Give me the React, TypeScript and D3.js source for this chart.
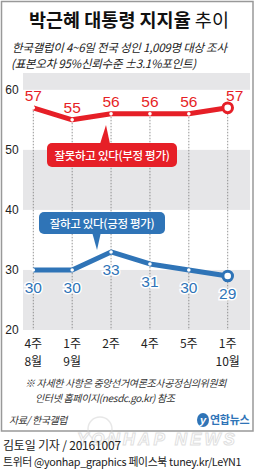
import React from "react";
import * as d3 from "d3";

// 조사 주차
const weeks = ["4주", "1주", "2주", "4주", "5주", "1주"];
const months = ["8월", "9월", "", "", "", "10월"];
// 잘못하고 있다(부정 평가)
const negative = [57, 55, 56, 56, 56, 57];
// 잘하고 있다(긍정 평가)
const positive = [30, 30, 33, 31, 30, 29];
const yTicks = [20, 30, 40, 50, 60];
// 회색 배경 구간
const bands: [number, number][] = [[20, 30], [40, 50], [60, 62.8]];

const W = 258;
const H = 470;
const RED = "#e61f27";
const BLUE = "#2f74b7";
const KR = "'Noto Sans CJK KR', 'Noto Sans', sans-serif";
const NUM = "'Liberation Sans Narrow', 'Liberation Sans', Arial, sans-serif";

export default function App() {
  const plot = { left: 23, right: 250, top: 73, bottom: 330 };

  const x = d3
    .scalePoint<number>()
    .domain(d3.range(weeks.length))
    .range([33.3, 227.7]);
  const y = d3.scaleLinear().domain([20, 62.8]).range([plot.bottom, plot.top]);

  const line = d3
    .line<number>()
    .x((_, i) => x(i)!)
    .y((d) => y(d));

  const last = weeks.length - 1;

  return (
    <svg
      width={W}
      height={H}
      viewBox={`0 0 ${W} ${H}`}
      style={{ position: "absolute", left: 0, top: 0, background: "#fff" }}
    >
      {/* 제목 */}
      <text x={129} y={27} textAnchor="middle" fontFamily={KR} fontSize={18.5} fill="#111">
        <tspan fontWeight="bold">박근혜 대통령 지지율 </tspan>
        <tspan>추이</tspan>
      </text>
      <g fontFamily={KR} fontSize={11.5} fill="#222" fontStyle="italic" letterSpacing={-0.25}>
        <text x={12} y={51.5}>한국갤럽이 4~6일 전국 성인 1,009명 대상 조사</text>
        <text x={11} y={68}>(표본오차 95%신뢰수준 ±3.1%포인트)</text>
      </g>

      {/* 배경 구간 */}
      {bands.map(([a, b]) => (
        <rect
          key={a}
          x={plot.left}
          y={y(b)}
          width={plot.right - plot.left}
          height={y(a) - y(b)}
          fill="#e6e6e8"
        />
      ))}

      {/* y축 */}
      {yTicks.map((t) => (
        <text
          key={t}
          x={12}
          y={y(t) + 4}
          textAnchor="middle"
          fontFamily={NUM}
          fontSize={12}
          fill="#222"
        >
          {t}
        </text>
      ))}

      {/* 점선 */}
      {negative.map((v, i) => (
        <line
          key={i}
          x1={x(i)}
          x2={x(i)}
          y1={y(v)}
          y2={plot.bottom}
          stroke="#777"
          strokeWidth={0.8}
          strokeDasharray="1.5 1.5"
        />
      ))}

      {/* 부정 평가 */}
      <path d={line(negative)!} fill="none" stroke={RED} strokeWidth={5} strokeLinejoin="round" />
      {negative.map((v, i) =>
        i === last ? (
          <circle key={i} cx={x(i)} cy={y(v)} r={4.8} fill="#fff" stroke={RED} strokeWidth={3} />
        ) : (
          <circle key={i} cx={x(i)} cy={y(v)} r={1.8} fill="#fff" />
        )
      )}
      {negative.map((v, i) => (
        <text
          key={i}
          x={x(i)! + (i === last ? 7 : 0)}
          y={y(v) - 7}
          textAnchor="middle"
          fontFamily={NUM}
          fontSize={15.5}
          fill={RED}
        >
          {v}
        </text>
      ))}

      {/* 긍정 평가 */}
      <path d={line(positive)!} fill="none" stroke={BLUE} strokeWidth={5} strokeLinejoin="round" />
      {positive.map((v, i) =>
        i === last ? (
          <circle key={i} cx={x(i)} cy={y(v)} r={4.8} fill="#fff" stroke={BLUE} strokeWidth={3} />
        ) : (
          <circle key={i} cx={x(i)} cy={y(v)} r={1.8} fill="#fff" />
        )
      )}
      {positive.map((v, i) => (
        <text
          key={i}
          x={x(i)}
          y={y(v) + 23}
          textAnchor="middle"
          fontFamily={NUM}
          fontSize={15.5}
          fill={BLUE}
          stroke="#fff"
          strokeWidth={3}
          paintOrder="stroke"
        >
          {v}
        </text>
      ))}

      {/* 말풍선 */}
      <g>
        <path d="M100,144 L106,125 L110,144 Z" fill={RED} />
        <rect x={47} y={143} width={130} height={24} rx={5} fill={RED} />
        <text x={112} y={159.5} textAnchor="middle" fontFamily={KR} fontSize={11.5} fontWeight={500} fill="#fff" letterSpacing={-0.3}>
          잘못하고 있다(부정 평가)
        </text>
      </g>
      <g>
        <path d="M92,232 L97,250 L101,232 Z" fill={BLUE} />
        <rect x={39} y={212} width={126} height={22} rx={5} fill={BLUE} />
        <text x={102} y={227.5} textAnchor="middle" fontFamily={KR} fontSize={11.5} fontWeight={500} fill="#fff" letterSpacing={-0.3}>
          잘하고 있다(긍정 평가)
        </text>
      </g>

      {/* x축 */}
      {weeks.map((w, i) => (
        <g key={i} fontFamily={KR} fontSize={12} fill="#222" textAnchor="middle">
          <text x={x(i)} y={348}>{w}</text>
          {months[i] && <text x={x(i)} y={366}>{months[i]}</text>}
        </g>
      ))}

      {/* 주석 */}
      <g fontFamily={KR} fontSize={10} fill="#333" fontStyle="italic" letterSpacing={-0.35}>
        <text x={25} y={387}>※ 자세한 사항은 중앙선거여론조사공정심의위원회</text>
        <text x={35} y={402}>인터넷 홈페이지(nesdc.go.kr) 참조</text>
      </g>
      <text x={9} y={424} fontFamily={KR} fontSize={10} fill="#333" fontStyle="italic" letterSpacing={-0.4}>
        자료/ 한국갤럽
      </text>

      {/* 연합뉴스 로고 */}
      <g>
        <ellipse cx={203} cy={420} rx={6} ry={7} fill={BLUE} />
        <text x={203} y={424} textAnchor="middle" fontFamily={NUM} fontStyle="italic" fontWeight="bold" fontSize={11} fill="#fff">
          y
        </text>
        <text x={210} y={424} fontFamily={KR} fontWeight="bold" fontSize={11} fill={BLUE} letterSpacing={-0.3}>
          연합뉴스
        </text>
      </g>

      {/* 테두리 */}
      <rect x={1.5} y={1.5} width={251.5} height={429.5} fill="none" stroke="#999" strokeWidth={1.5} />

      {/* 워터마크 */}
      <g opacity={0.45}>
        <circle cx={100} cy={429} r={12} fill="none" stroke="#ccc" strokeWidth={1.5} />
        <text x={77} y={445} fontFamily="'Liberation Sans', Arial, sans-serif" fontStyle="italic" fontWeight="bold" fontSize={17} letterSpacing={3} fill="#fff" stroke="#bbb" strokeWidth={1}>
          YONHAP NEWS
        </text>
      </g>

      {/* 하단 */}
      <text x={3} y={450} fontFamily={KR} fontSize={12} fill="#222" letterSpacing={-0.2}>
        김토일 기자 / 20161007
      </text>
      <text x={3} y={466} fontFamily={KR} fontSize={10.8} fill="#222" letterSpacing={-0.3}>
        트위터 @yonhap_graphics  페이스북 tuney.kr/LeYN1
      </text>
    </svg>
  );
}
